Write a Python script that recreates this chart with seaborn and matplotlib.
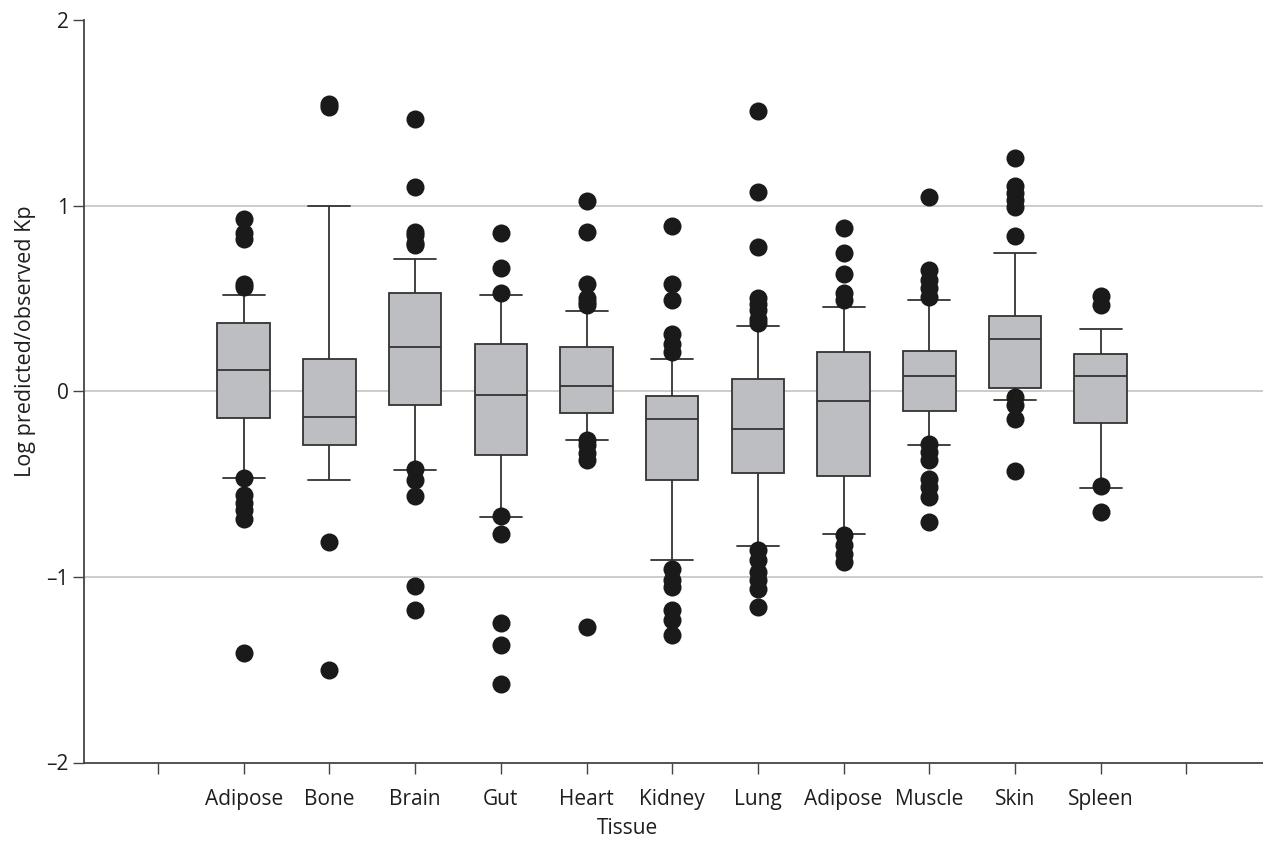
import numpy as np
import pandas as pd
import matplotlib
matplotlib.use("Agg")
import matplotlib.pyplot as plt
import seaborn as sns

# ---------------- data ----------------
tissues = ["Adipose", "Bone", "Brain", "Gut", "Heart", "Kidney",
           "Lung", "Adipose", "Muscle", "Skin", "Spleen"]

whisker_low  = [-0.467, -0.476, -0.422, -0.678, -0.264, -0.907, -0.834, -0.767, -0.291, -0.045, -0.519]
q1           = [-0.142, -0.291, -0.072, -0.345, -0.117, -0.476, -0.440, -0.458, -0.108,  0.018, -0.169]
median       = [ 0.113, -0.140,  0.236, -0.018,  0.027, -0.151, -0.205, -0.054,  0.081,  0.284,  0.081]
q3           = [ 0.368,  0.174,  0.527,  0.253,  0.236, -0.027,  0.068,  0.209,  0.217,  0.404,  0.200]
whisker_high = [ 0.518,  1.000,  0.710,  0.517,  0.431,  0.176,  0.350,  0.455,  0.491,  0.746,  0.333]

outliers_adipose  = [0.93, 0.85, 0.82, 0.58, 0.56, -0.47, -0.56, -0.60, -0.64, -0.69, -1.41]
outliers_bone     = [1.55, 1.53, -0.81, -1.50]
outliers_brain    = [1.465, 1.10, 0.86, 0.84, 0.80, 0.79, -0.42, -0.48, -0.566, -1.047, -1.18]
outliers_gut      = [0.855, 0.665, 0.53, -0.67, -0.767, -1.249, -1.366, -1.576]
outliers_heart    = [1.026, 0.859, 0.58, 0.50, 0.48, 0.464, -0.26, -0.29, -0.33, -0.37, -1.27]
outliers_kidney   = [0.889, 0.577, 0.49, 0.311, 0.257, 0.212, -0.956, -1.019, -1.055, -1.18, -1.235, -1.315]
outliers_lung     = [1.509, 1.071, 0.775, 0.50, 0.47, 0.44, 0.39, 0.37,
                     -0.857, -0.911, -0.974, -1.019, -1.064, -1.163]
outliers_adipose2 = [0.88, 0.746, 0.631, 0.527, 0.49, -0.776, -0.83, -0.875, -0.92]
outliers_muscle   = [1.047, 0.652, 0.598, 0.554, 0.508, -0.282, -0.327, -0.372, -0.471, -0.516, -0.57, -0.705]
outliers_skin     = [1.254, 1.105, 1.066, 1.03, 0.994, 0.836, -0.03, -0.075, -0.147, -0.43]
outliers_spleen   = [0.515, 0.465, -0.512, -0.65]

outliers = [outliers_adipose, outliers_bone, outliers_brain, outliers_gut, outliers_heart,
            outliers_kidney, outliers_lung, outliers_adipose2, outliers_muscle,
            outliers_skin, outliers_spleen]

y_ticks = [-2, -1, 0, 1, 2]
grid_levels = [-1, 0, 1]

# ---------------- build frames ----------------
keys = [f"{i}_{t}" for i, t in enumerate(tissues)]
order = ["_start"] + keys + ["_end"]

box_rows = []
for k, lo, a, m, b, hi in zip(keys, whisker_low, q1, median, q3, whisker_high):
    for v in (lo, a, m, b, hi):
        box_rows.append({"key": k, "value": v})
df_box = pd.DataFrame(box_rows)

out_rows = []
for k, vals in zip(keys, outliers):
    for v in vals:
        out_rows.append({"key": k, "value": v})
df_out = pd.DataFrame(out_rows)

# ---------------- style ----------------
sns.set_style("white")
plt.rcParams["font.family"] = ["Open Sans", "DejaVu Sans"]

EDGE = "#333333"
AXIS = "#444444"
BOX_FACE = "#bdbec2"
DOT = "#1a1a1a"
TEXT = "#1e1e1e"

fig = plt.figure(figsize=(12.63, 8.64), dpi=100)
ax = fig.add_axes([84 / 1263, (864 - 762.5) / 864, (1263 - 84) / 1263, (762.5 - 20) / 864])

for g in grid_levels:
    ax.axhline(g, color="#c8c8c8", lw=1.3, zorder=0)

sns.boxplot(data=df_box, x="key", y="value", order=order, whis=(0, 100),
            showfliers=False, width=0.613, color=BOX_FACE, saturation=1,
            linecolor=EDGE, linewidth=1.3, capwidths=0.49, ax=ax)

sns.stripplot(data=df_out, x="key", y="value", order=order, jitter=False,
              color=DOT, size=13, linewidth=0, zorder=3, ax=ax)

ax.set_xlim(-0.864, 12.894)
ax.set_ylim(-2, 2)
ax.set_xticks(range(len(order)))
ax.set_xticklabels([""] + tissues + [""])
ax.set_yticks(y_ticks)
ax.set_yticklabels([str(t).replace("-", "\u2013") for t in y_ticks])

for s in ("top", "right"):
    ax.spines[s].set_visible(False)
for s in ("left", "bottom"):
    ax.spines[s].set_color(AXIS)
    ax.spines[s].set_linewidth(1.3)

ax.tick_params(axis="y", left=True, length=8, width=1, color=AXIS, direction="out",
               labelsize=15, pad=3, labelcolor=TEXT)
ax.tick_params(axis="x", bottom=True, length=8, width=1, color=AXIS, direction="out",
               labelsize=15, pad=11, labelcolor=TEXT)

ax.set_xlabel("Tissue", fontsize=15, color=TEXT)
ax.set_ylabel("Log predicted/observed Kp", fontsize=15.5, color=TEXT)
ax.xaxis.set_label_coords(0.461, -0.0747)
ax.yaxis.set_label_coords(-0.0407, 0.568)

fig.savefig("out.png", dpi=100)
